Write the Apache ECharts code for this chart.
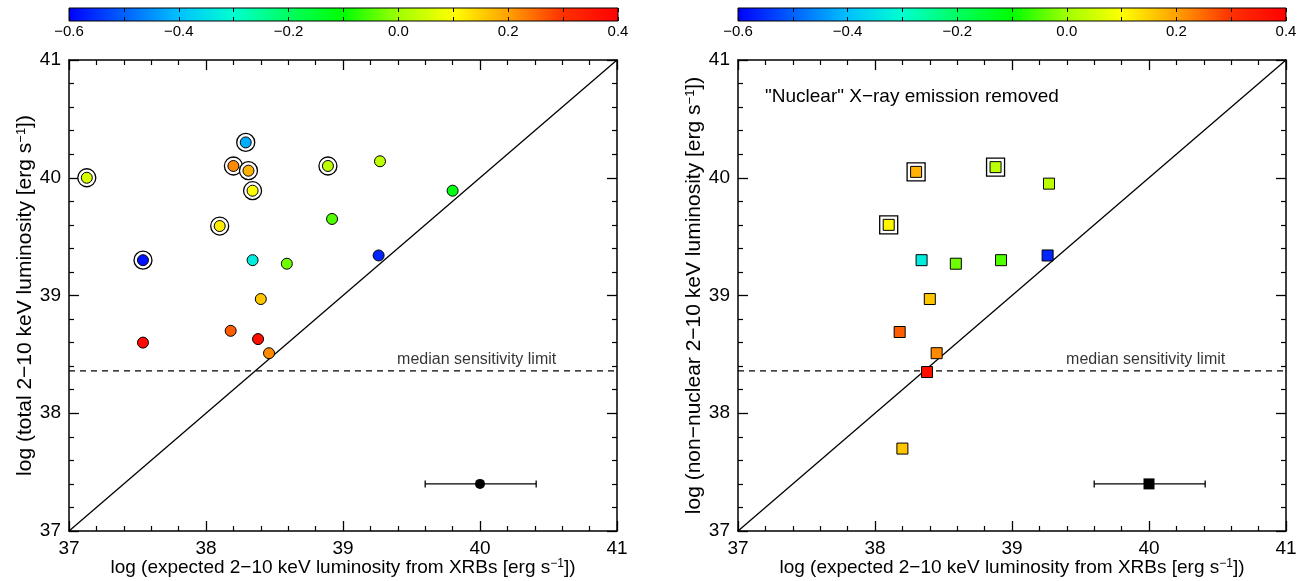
<!DOCTYPE html>
<html><head><meta charset="utf-8">
<script src="https://cdn.jsdelivr.net/npm/echarts@6/dist/echarts.min.js"></script>
<style>html,body{margin:0;padding:0;background:#fff}#c{width:1307px;height:581px}</style>
</head><body><div id="c"></div>
<script>
// ---- data ----
const leftX    = [37.13, 37.54, 37.54, 38.10, 38.29, 38.20, 38.31, 38.34, 38.34, 38.59, 38.40, 38.18, 38.38, 38.46, 38.92, 38.89, 39.27, 39.80, 39.26];
const leftY    = [40.00, 39.30, 38.60, 39.59, 40.30, 40.10, 40.06, 39.89, 39.30, 39.27, 38.97, 38.70, 38.63, 38.51, 39.65, 40.10, 40.14, 39.89, 39.34];
const leftC    = [0.06, -0.58, 0.38, 0.12, -0.42, 0.22, 0.18, 0.10, -0.33, -0.03, 0.16, 0.26, 0.37, 0.22, -0.05, 0.03, 0.03, -0.12, -0.56];
const leftRing = [1, 1, 0, 1, 1, 1, 1, 1, 0, 0, 0, 0, 0, 0, 0, 1, 0, 0, 0];

const rightX    = [38.30, 38.88, 38.10, 38.34, 38.59, 38.92, 39.26, 39.27, 38.40, 38.18, 38.45, 38.38, 38.20];
const rightY    = [40.05, 40.09, 39.60, 39.30, 39.27, 39.30, 39.34, 39.95, 38.97, 38.69, 38.51, 38.35, 37.70];
const rightC    = [0.18, 0.03, 0.11, -0.33, -0.03, -0.05, -0.56, 0.03, 0.16, 0.26, 0.22, 0.37, 0.16];
const rightRing = [1, 1, 1, 0, 0, 0, 0, 0, 0, 0, 0, 0, 0];

const diagX = [37, 41];
const diagY = [37, 41];
const sensLimit = 38.36;
const sensLabelX = 40.56;
const refX = 40.00, refY = 37.40, refLow = 39.60, refHigh = 40.41;

const axisMin = 37, axisMax = 41;
const cbMin = -0.6, cbMax = 0.4;
const colorStops = ['#0000ff','#0060ff','#00c0ff','#00ffd0','#00ff60','#00ff00','#a0ff00','#ffff00','#ffa000','#ff3000','#ff0000'];

const xTitle = '{t|log (expected 2−10 keV luminosity from XRBs [erg s}{s|−1}{t|])}';
const yTitleL = '{t|log (total 2−10 keV luminosity [erg s}{s|−1}{t|])}';
const yTitleR = '{t|log (non−nuclear 2−10 keV luminosity [erg s}{s|−1}{t|])}';
const panelNote = '"Nuclear" X−ray emission removed';
const sensText = 'median sensitivity limit';

// ---- chart ----
const FONT = '"Liberation Sans", Arial, Helvetica, sans-serif';
const chart = echarts.init(document.getElementById('c'), null, {renderer: 'canvas'});

const richX = {
  t: {fontSize: 19, fontFamily: FONT, color: '#000'},
  s: {fontSize: 12, fontFamily: FONT, color: '#000', verticalAlign: 'top', lineHeight: 12}
};
const richY = {
  t: {fontSize: 21, fontFamily: FONT, color: '#000'},
  s: {fontSize: 13, fontFamily: FONT, color: '#000', verticalAlign: 'top', lineHeight: 13}
};

function mainAxis(grid, pos, isX, name, showLabel) {
  const a = {
    type: 'value', gridIndex: grid, position: pos, min: axisMin, max: axisMax, interval: 1,
    axisLine: {show: true, onZero: false, lineStyle: {color: '#000', width: 1.5}},
    axisTick: {show: true, inside: true, length: 10, lineStyle: {color: '#000', width: 1.3}},
    minorTick: {show: true, splitNumber: 5, length: 5, lineStyle: {color: '#000', width: 1.2}},
    splitLine: {show: false}, minorSplitLine: {show: false},
    axisLabel: {show: showLabel, fontSize: 19, fontFamily: FONT, color: '#000', margin: 8},
    z: 1
  };
  if (name) {
    a.name = name; a.nameLocation = 'middle';
    a.nameGap = isX ? 27 : 33;
    a.nameMoveOverlap = false;
    a.nameTextStyle = {rich: isX ? richX : richY};
  }
  return a;
}
function cbAxis(grid, pos, showLabel) {
  return {
    type: 'value', gridIndex: grid, position: pos, min: cbMin, max: cbMax, interval: 0.2,
    axisLine: {show: false},
    axisTick: {show: true, inside: true, length: 4, lineStyle: {color: '#000', width: 1}},
    minorTick: {show: true, splitNumber: 2, length: 4, lineStyle: {color: '#000', width: 1}},
    splitLine: {show: false}, minorSplitLine: {show: false},
    axisLabel: {show: showLabel, fontSize: 15, fontFamily: FONT, color: '#000', margin: 3,
      formatter: v => (Math.abs(v) < 1e-9 ? '0.0' : v.toFixed(1).replace('-', '−'))},
    z: 5
  };
}

function zip(xs, ys, cs) { return xs.map((x, i) => cs ? [x, ys[i], cs[i]] : [x, ys[i]]); }
function ringData(xs, ys, flags) { return xs.map((x, i) => [x, ys[i]]).filter((d, i) => flags[i]); }

function panelSeries(xi, yi, X, Y, C, R, sym) {
  return [
    {type: 'line', xAxisIndex: xi, yAxisIndex: yi, data: zip(diagX, diagY), symbol: 'none', silent: true,
     lineStyle: {color: '#000', width: 1.3}, z: 2, animation: false},
    {type: 'line', xAxisIndex: xi, yAxisIndex: yi, data: [[axisMin, sensLimit], [axisMax, sensLimit]], symbol: 'none', silent: true,
     lineStyle: {color: '#000', width: 1.3, type: [6, 5]}, z: 2, animation: false},
    {type: 'scatter', xAxisIndex: xi, yAxisIndex: yi, data: ringData(X, Y, R), symbol: sym, symbolSize: 18,
     itemStyle: {color: '#fff', borderColor: '#000', borderWidth: 1.3, opacity: 1}, z: 3, animation: false},
    {type: 'scatter', xAxisIndex: xi, yAxisIndex: yi, data: zip(X, Y, C), symbol: sym, symbolSize: 11,
     itemStyle: {borderColor: '#000', borderWidth: 1, opacity: 1}, z: 4, animation: false},
    {type: 'custom', xAxisIndex: xi, yAxisIndex: yi, data: [[refLow, refY, refHigh]], z: 4, animation: false,
     renderItem: function (params, api) {
       const p0 = api.coord([api.value(0), api.value(1)]);
       const p1 = api.coord([api.value(2), api.value(1)]);
       const st = {stroke: '#000', lineWidth: 1.3};
       return {type: 'group', children: [
         {type: 'line', shape: {x1: p0[0], y1: p0[1], x2: p1[0], y2: p1[1]}, style: st},
         {type: 'line', shape: {x1: p0[0], y1: p0[1] - 3.5, x2: p0[0], y2: p0[1] + 3.5}, style: st},
         {type: 'line', shape: {x1: p1[0], y1: p1[1] - 3.5, x2: p1[0], y2: p1[1] + 3.5}, style: st}
       ]};
     }},
    {type: 'scatter', xAxisIndex: xi, yAxisIndex: yi, data: [[refX, refY]], symbol: sym, symbolSize: sym === 'rect' ? 11 : 10,
     itemStyle: {color: '#000', opacity: 1}, z: 5, animation: false},
    {type: 'scatter', xAxisIndex: xi, yAxisIndex: yi, data: [[sensLabelX, sensLimit]], symbolSize: 1, silent: true,
     itemStyle: {color: 'rgba(0,0,0,0)'}, z: 5, animation: false,
     label: {show: true, position: 'left', distance: 0, offset: [0, -11], formatter: sensText,
             fontSize: 16, fontFamily: FONT, color: '#000'}}
  ];
}

function colorbarSeries(xi, yi) {
  return {
    type: 'custom', xAxisIndex: xi, yAxisIndex: yi, data: [[cbMin, cbMax]], z: 1, animation: false, silent: true,
    renderItem: function (params, api) {
      const a = api.coord([api.value(0), 1]);
      const b = api.coord([api.value(1), 0]);
      return {type: 'rect', shape: {x: a[0], y: a[1], width: b[0] - a[0], height: b[1] - a[1]},
        style: {fill: new echarts.graphic.LinearGradient(0, 0, 1, 0,
          colorStops.map((c, i) => ({offset: i / (colorStops.length - 1), color: c}))),
          stroke: '#000', lineWidth: 1}};
    }
  };
}

const series = [].concat(
  panelSeries(0, 0, leftX, leftY, leftC, leftRing, 'circle'),
  panelSeries(2, 2, rightX, rightY, rightC, rightRing, 'rect'),
  [colorbarSeries(4, 4), colorbarSeries(6, 5)]
);

chart.setOption({
  animation: false,
  backgroundColor: '#fff',
  textStyle: {fontFamily: FONT},
  title: {text: panelNote, left: 765, top: 87, padding: 0,
          textStyle: {fontSize: 19, fontWeight: 'normal', fontFamily: FONT, color: '#000'}},
  grid: [
    {left: 69, right: 690, top: 60, bottom: 50, containLabel: false, outerBoundsMode: 'none'},
    {left: 738, right: 21, top: 60, bottom: 50, containLabel: false, outerBoundsMode: 'none'},
    {left: 69, width: 549, top: 8, height: 13, containLabel: false, outerBoundsMode: 'none'},
    {left: 738, width: 548, top: 8, height: 13, containLabel: false, outerBoundsMode: 'none'}
  ],
  xAxis: [
    mainAxis(0, 'bottom', true, xTitle, true),
    mainAxis(0, 'top', true, null, false),
    mainAxis(1, 'bottom', true, xTitle, true),
    mainAxis(1, 'top', true, null, false),
    cbAxis(2, 'bottom', true),
    cbAxis(2, 'top', false),
    cbAxis(3, 'bottom', true),
    cbAxis(3, 'top', false)
  ],
  yAxis: [
    mainAxis(0, 'left', false, yTitleL, true),
    mainAxis(0, 'right', false, null, false),
    mainAxis(1, 'left', false, yTitleR, true),
    mainAxis(1, 'right', false, null, false),
    {type: 'value', gridIndex: 2, min: 0, max: 1, show: false},
    {type: 'value', gridIndex: 3, min: 0, max: 1, show: false}
  ],
  visualMap: {
    type: 'continuous', show: false, min: cbMin, max: cbMax, dimension: 2,
    seriesIndex: [3, 10], inRange: {color: colorStops}
  },
  series: series
});
</script>
</body></html>
